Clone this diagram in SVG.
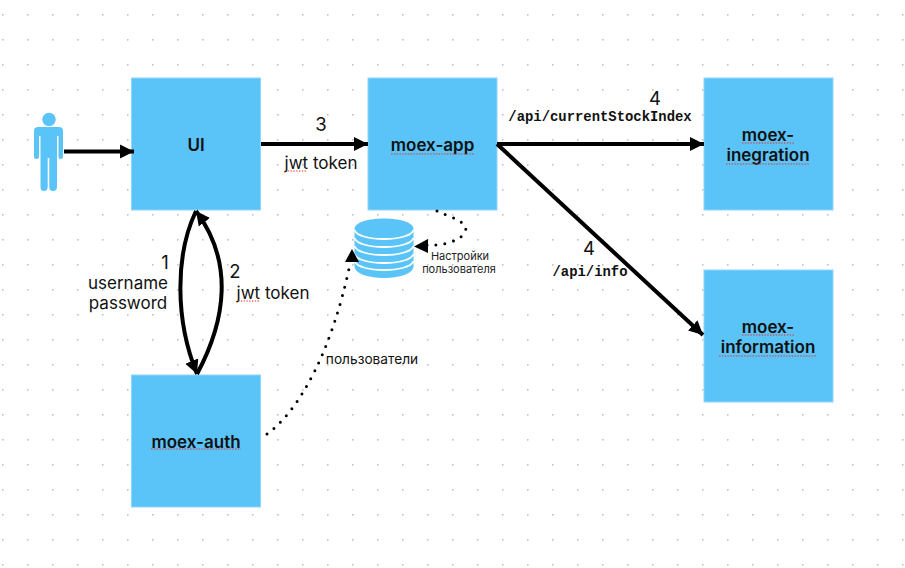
<svg xmlns="http://www.w3.org/2000/svg" width="905" height="568" viewBox="0 0 905 568">
<style>
text{font-family:"Inter","Liberation Sans",sans-serif;fill:#111;text-anchor:middle}
.n{font-size:17px;font-weight:600}
.l{font-size:17px}
.d{font-size:18.500px}
.s{font-size:11px;fill:#222}
.c{font-family:"Liberation Mono",monospace;font-size:13.900px;font-weight:700}
.box{fill:#5ac3f8;stroke:#8fd6fa;stroke-width:1}
.line{fill:none;stroke:#000;stroke-width:4}
.dot{fill:none;stroke:#000;stroke-width:3;stroke-linecap:round;stroke-dasharray:0 8.900}
.sq{fill:none;stroke:#e8312a;stroke-width:1.200;stroke-dasharray:1.400 1.400}
.st{fill:none;stroke:#fff;stroke-width:1.800}
</style>
<defs>
<pattern id="grid" width="25" height="25" patternUnits="userSpaceOnUse" x="2" y="14">
<circle cx="0.700" cy="0.700" r="1" fill="#c4c4c4"/>
</pattern>
<marker id="a" markerUnits="userSpaceOnUse" markerWidth="15" markerHeight="15" refX="14" refY="7.500" orient="auto">
<path d="M0,0.500 L14,7.500 L0,14.500Z" fill="#000"/>
</marker>
</defs>
<rect width="905" height="568" fill="#fff"/>
<rect width="905" height="568" fill="url(#grid)"/>
<g id="user">
<circle cx="49" cy="119.500" r="6.700" fill="#5ac3f8"/>
<path d="M38,127H59Q63,127 63,131V156.500Q63,159 60.700,159T58.500,156.500V136H57V186.500Q57,191 53,191T49.300,186.500V158H47.700V186.500Q47.700,191 44,191T40.500,186.500V136H39V156.500Q39,159 36.500,159T34,156.500V131Q34,127 38,127Z" fill="#5ac3f8"/>
</g>
<g id="ui">
<rect class="box" x="131.500" y="78" width="129" height="132"/>
<text class="n" x="196" y="151">UI</text>
</g>
<g id="moex-app">
<rect class="box" x="368" y="78" width="129" height="132"/>
<text class="n" x="432.500" y="151">moex-app</text>
<path class="sq" d="M391,154H474"/>
</g>
<g id="moex-inegration">
<rect class="box" x="704" y="78" width="129" height="132"/>
<text class="n" x="768" y="141">moex-</text>
<text class="n" x="768" y="161">inegration</text>
<path class="sq" d="M742,143H795M726,164H809"/>
</g>
<g id="moex-information">
<rect class="box" x="704" y="270" width="129" height="132"/>
<text class="n" x="768" y="333">moex-</text>
<text class="n" x="768" y="353">information</text>
<path class="sq" d="M742,335H795M719,356H816"/>
</g>
<g id="moex-auth">
<rect class="box" x="131.500" y="375" width="129" height="132"/>
<text class="n" x="196" y="448">moex-auth</text>
<path class="sq" d="M151,449H241"/>
</g>
<g id="database">
<path d="M354.500,229C354.500,215 413.500,215 413.500,229V266C413.500,282 354.500,282 354.500,266Z" fill="#5ac3f8"/>
<path class="st" d="M354.500,230C358,242 410,242 413.500,230M354.500,238C358,250 410,250 413.500,238M354.500,246C358,258 410,258 413.500,246M354.500,254C358,266 410,266 413.500,254M354.500,261C358,273 410,273 413.500,261"/>
</g>
<g id="connectors">
<path class="line" d="M64,151.500H134" marker-end="url(#a)"/>
<path class="line" d="M261,144H368" marker-end="url(#a)"/>
<path class="line" d="M497,144H704" marker-end="url(#a)"/>
<path class="line" d="M497,144L703,335" marker-end="url(#a)"/>
<path class="line" d="M196,211C175,255 175,320 197,374" marker-end="url(#a)"/>
<path class="line" d="M197,374C226,320 234,262 196,211" marker-end="url(#a)"/>
<path class="dot" d="M267,434C300,410 332,350 350,264"/>
<path d="M345,262L359,262L352,249Z" fill="#000"/>
<path class="dot" d="M437,211C450,217 470,222 465,232C460,242 440,246 427,245"/>
<path d="M428,239L414,246.500L428,253Z" fill="#000"/>
</g>
<g id="labels">
<text class="d" x="321" y="131">3</text>
<text class="l" x="321" y="169">jwt token</text>
<path class="sq" d="M285,171H307"/>
<text class="d" x="655" y="105">4</text>
<text class="c" x="600" y="121">/api/currentStockIndex</text>
<text class="d" x="589" y="255">4</text>
<text class="c" x="590" y="276">/api/info</text>
<text class="d" x="165" y="269">1</text>
<text class="l" x="128" y="289">username</text>
<text class="l" x="128" y="309">password</text>
<text class="d" x="235" y="278">2</text>
<text class="l" x="273" y="299">jwt token</text>
<path class="sq" d="M238,301H260"/>
<text x="372" y="364" style="font-size:13.700px">пользователи</text>
<text class="s" x="460" y="260">Настройки</text>
<text class="s" x="459" y="273">пользователя</text>
</g>
</svg>
